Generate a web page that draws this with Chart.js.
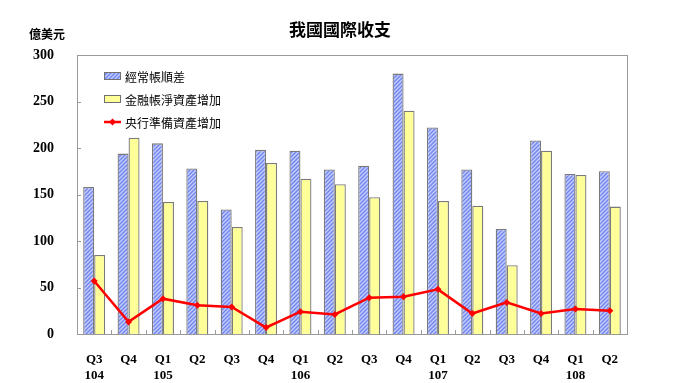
<!DOCTYPE html>
<html>
<head>
<meta charset="utf-8">
<script src="https://cdn.jsdelivr.net/npm/chart.js@4/dist/chart.umd.min.js"></script>
<style>
  html, body { margin: 0; padding: 0; background: #fff; }
  #wrap { width: 680px; height: 383px; position: relative; }
</style>
</head>
<body>
<div id="wrap"><canvas id="bop"></canvas></div>
<script>
// data (億美元)
var quarters = ["Q3", "Q4", "Q1", "Q2", "Q3", "Q4", "Q1", "Q2", "Q3", "Q4", "Q1", "Q2", "Q3", "Q4", "Q1", "Q2"];
var years = ["104", "", "105", "", "", "", "106", "", "", "", "107", "", "", "", "108", ""];
var currentAccount = [158, 194, 205, 178, 134, 198, 197, 177, 181, 280, 222, 177, 113, 208, 172, 175];
var financialNet = [85, 211, 142, 143, 115, 184, 167, 161, 147, 240, 143, 138, 74, 197, 171, 137];
var reserveAssets = [57, 13, 38, 31, 29, 7, 24, 21, 39, 40, 48, 22, 34, 22, 27, 25];
var yTicks = [0, 50, 100, 150, 200, 250, 300];

var cjk = "'Noto Sans CJK TC', 'Noto Sans CJK SC', sans-serif";

function hatch() {
    var c = document.createElement("canvas");
    c.width = 4; c.height = 4;
    var g = c.getContext("2d");
    g.fillStyle = "#c4cdfb";
    g.fillRect(0, 0, 4, 4);
    g.strokeStyle = "#7085f0";
    g.lineWidth = 1.4;
    g.beginPath();
    g.moveTo(-1, 5); g.lineTo(5, -1);
    g.moveTo(-1, 1); g.lineTo(1, -1);
    g.moveTo(3, 5); g.lineTo(5, 3);
    g.stroke();
    return g.createPattern(c, "repeat");
}
var bluePattern = hatch();

var labels = quarters.map(function (q, i) { return [q, years[i]]; });

// frame, inward ticks, texts, legend
var decor = {
    id: "decor",
    afterDatasetsDraw: function (chart) {
        var ctx = chart.ctx;
        var a = chart.chartArea;
        var xs = chart.scales.x, ys = chart.scales.y;
        ctx.save();
        ctx.strokeStyle = "#9a9a9a";
        ctx.lineWidth = 1;
        ctx.strokeRect(Math.round(a.left) + 0.5, Math.round(a.top) + 0.5, Math.round(a.right - a.left), Math.round(a.bottom - a.top));
        ctx.beginPath();
        yTicks.forEach(function (v) {
            var y = Math.round(ys.getPixelForValue(v)) + 0.5;
            ctx.moveTo(a.left, y); ctx.lineTo(a.left + 4, y);
        });
        for (var i = 1; i < quarters.length; i++) {
            var x = Math.round((xs.getPixelForValue(i - 1) + xs.getPixelForValue(i)) / 2) + 0.5;
            ctx.moveTo(x, a.bottom); ctx.lineTo(x, a.bottom - 4);
        }
        ctx.stroke();

        ctx.fillStyle = "#000";
        ctx.textBaseline = "middle";
        ctx.textAlign = "center";
        ctx.font = "bold 17px " + cjk;
        ctx.fillText("我國國際收支", 340, 30);
        ctx.font = "bold 12px " + cjk;
        ctx.fillText("億美元", 47, 34);

        // legend
        var items = chart.data.datasets;
        var ly = [76, 99, 122];
        ctx.textAlign = "left";
        ctx.font = "12px " + cjk;
        [1, 2, 0].forEach(function (di, k) {
            var ds = items[di];
            var y = ly[k];
            if (ds.type === "line") {
                ctx.strokeStyle = ds.borderColor;
                ctx.lineWidth = 2.5;
                ctx.beginPath(); ctx.moveTo(104, y); ctx.lineTo(121, y); ctx.stroke();
                ctx.fillStyle = ds.borderColor;
                ctx.beginPath();
                ctx.moveTo(112.5, y - 3.5); ctx.lineTo(116, y); ctx.lineTo(112.5, y + 3.5); ctx.lineTo(109, y);
                ctx.closePath(); ctx.fill();
            } else {
                ctx.fillStyle = ds.backgroundColor;
                ctx.fillRect(104, y - 3.5, 16, 7);
                ctx.strokeStyle = "#707070";
                ctx.lineWidth = 1;
                ctx.strokeRect(104.5, y - 3.5, 16, 7);
            }
            ctx.fillStyle = "#000";
            ctx.fillText(ds.label, 125, y + 1);
        });
        ctx.restore();
    }
};

new Chart(document.getElementById("bop"), {
    type: "bar",
    data: {
        labels: labels,
        datasets: [
            {
                type: "line",
                label: "央行準備資產增加",
                data: reserveAssets,
                borderColor: "#ff0000",
                backgroundColor: "#ff0000",
                borderWidth: 2.5,
                pointStyle: "rectRot",
                pointRadius: 3.5,
                pointBorderWidth: 0,
                tension: 0,
                order: 0
            },
            {
                label: "經常帳順差",
                data: currentAccount,
                backgroundColor: bluePattern,
                borderColor: "#7a7a7a",
                borderWidth: 1.3,
                order: 1
            },
            {
                label: "金融帳淨資產增加",
                data: financialNet,
                backgroundColor: "#ffff99",
                borderColor: "#7a7a7a",
                borderWidth: 1.3,
                order: 2
            }
        ]
    },
    options: {
        responsive: true,
        maintainAspectRatio: false,
        animation: false,
        layout: { padding: { left: 0, right: 53, top: 55, bottom: 0 } },
        datasets: { bar: { categoryPercentage: 0.64, barPercentage: 1.0 } },
        plugins: { legend: { display: false }, tooltip: { enabled: false } },
        scales: {
            x: {
                grid: { display: false },
                border: { display: false },
                ticks: { color: "#000", font: { family: "'Liberation Serif', serif", size: 13, weight: "bold" }, padding: 10, maxRotation: 0, autoSkip: false },
                afterFit: function (s) { s.height = 49; }
            },
            y: {
                min: 0, max: 300,
                grid: { display: false },
                border: { display: false },
                afterBuildTicks: function (s) { s.ticks = yTicks.map(function (v) { return { value: v }; }); },
                ticks: { color: "#000", font: { family: "'Liberation Serif', serif", size: 14, weight: "bold" }, padding: 15 },
                afterFit: function (s) { s.width = 77; }
            }
        }
    },
    plugins: [decor]
});
</script>
</body>
</html>
